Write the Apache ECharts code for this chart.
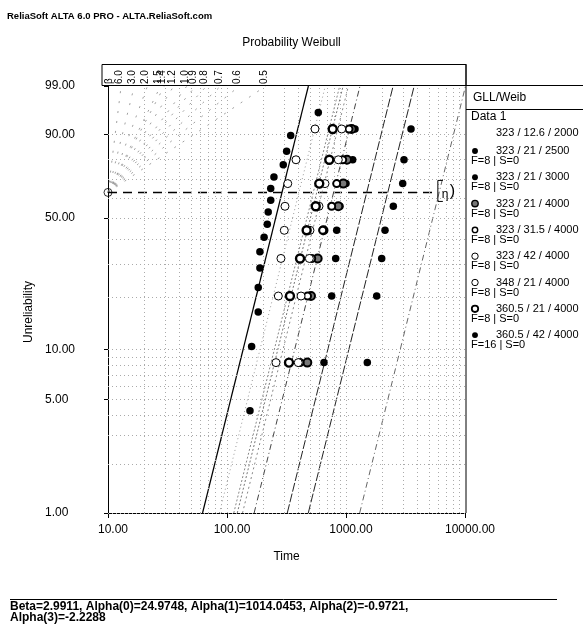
<!DOCTYPE html>
<html><head><meta charset="utf-8">
<script src="https://cdn.jsdelivr.net/npm/echarts@6/dist/echarts.min.js"></script>
<style>html,body{margin:0;padding:0;background:#fff}#c{width:583px;height:628px}</style>
</head><body><div id="c"></div>
<script>
// ---------------- DATA ----------------
const headerText = 'ReliaSoft ALTA 6.0 PRO - ALTA.ReliaSoft.com';
const chartTitle = 'Probability Weibull';
const xName = 'Time';
const yName = 'Unreliability';
const modelName = 'GLL/Weib';
const dataName = 'Data 1';
const paramText = ['Beta=2.9911, Alpha(0)=24.9748, Alpha(1)=1014.0453, Alpha(2)=-0.9721,', 'Alpha(3)=-2.2288'];

const yTickLabels = [1, 5, 10, 50, 90, 99];
const yGridValues = [1, 2, 3, 4, 5, 6, 7, 8, 9, 10, 20, 30, 40, 50, 60, 70, 80, 90, 99];
const xGridValues = [20, 30, 40, 50, 60, 70, 80, 90, 100, 200, 300, 400, 500, 600, 700, 800, 900, 1000,
  2000, 3000, 4000, 5000, 6000, 7000, 8000, 9000];
const xMin = 10, xMax = 10000;
const betaScale = [6.0, 3.0, 2.0, 1.5, 1.4, 1.2, 1.0, 0.9, 0.8, 0.7, 0.6, 0.5];
const etaOriginTime = 10;
const etaLineEnd = 5800;

const stressLevels = ['323 / 12.6 / 2000', '323 / 21 / 2500', '323 / 21 / 3000', '323 / 21 / 4000',
  '323 / 31.5 / 4000', '323 / 42 / 4000', '348 / 21 / 4000', '360.5 / 21 / 4000', '360.5 / 42 / 4000'];
const failures = [null, 8, 8, 8, 8, 8, 8, 8, 16];
const suspensions = [null, 0, 0, 0, 0, 0, 0, 0, 0];

// unreliability (%) of plotted points
const unrel8 = [8.33, 20.24, 32.14, 44.05, 55.95, 67.86, 79.76, 91.67];
const unrel16 = [4.27, 10.37, 16.46, 22.56, 28.66, 34.76, 40.85, 46.95, 53.05, 59.15, 65.24, 71.34, 77.44, 83.54, 89.63, 95.73];

// failure times per stress level
const t_323_21_2500 = [1510, 1811, 1995, 2127, 2498, 2996, 3072, 3517];
const t_323_21_3000 = [653, 758, 819, 835, 890, 1000, 1138, 1190];
const t_323_21_4000 = [473, 508, 578, 647, 862, 949, 1020, 1117];
const t_323_315_4000 = [411, 475, 515, 637, 758, 835, 938, 1060];
const t_323_42_4000 = [397, 419, 492, 498, 593, 666, 862, 920];
const t_348_21_4000 = [258, 270, 284, 303, 307, 324, 380, 549];
const t_3605_21_4000 = [332, 338, 411, 467, 557, 596, 724, 773];
const t_3605_42_4000 = [156, 161, 183, 183, 189, 189, 205, 218, 222, 233, 233, 248, 297, 317, 343, 585];

// fitted lines: time at 1% and at 99% unreliability per stress level
const lineT1 = [1303, 482, 321, 169, 114, 86.4, 135, 122, 62.3];
const lineT99 = [10106, 3741, 2489, 1311, 885, 670, 1048, 946, 483];

// ---------------- STYLES ----------------
const FONT = '"Liberation Sans", Arial, Helvetica, sans-serif';
const markerStyles = {
  filled: { size: 7.5, color: '#000', borderColor: '#000', borderWidth: 0 },
  open: { size: 8, color: '#fff', borderColor: '#000', borderWidth: 1 },
  ringThick: { size: 8, color: '#fff', borderColor: '#000', borderWidth: 2.4 },
  ringGray: { size: 8, color: '#777', borderColor: '#000', borderWidth: 2 },
  ringSmall: { size: 7, color: '#fff', borderColor: '#000', borderWidth: 2 }
};
const levelMarker = [null, 'filled', 'filled', 'ringGray', 'ringSmall', 'open', 'open', 'ringThick', 'filled'];
const levelTimes = [null, t_323_21_2500, t_323_21_3000, t_323_21_4000, t_323_315_4000, t_323_42_4000,
  t_348_21_4000, t_3605_21_4000, t_3605_42_4000];
const lineStyles = [
  { color: '#666', type: [6, 3, 1, 3], width: 1 },
  { color: '#222', type: [9, 2], width: 1 },
  { color: '#222', type: [9, 2], width: 1 },
  { color: '#444', type: [6, 3, 1, 3], width: 1 },
  { color: '#888', type: [2, 2], width: 1 },
  { color: '#999', type: [1, 3], width: 1 },
  { color: '#888', type: [2, 3], width: 1 },
  { color: '#777', type: [2, 2], width: 1 },
  { color: '#000', type: 'solid', width: 1.2 }
];

// Weibull probability scale
const uOf = p => Math.log(-Math.log(1 - p / 100));
const pOf = u => 100 * (1 - Math.exp(-Math.exp(u)));
const uMin = uOf(1), uMax = uOf(99);

const chart = echarts.init(document.getElementById('c'));

const series = [];
series.push({
  type: 'line', data: [], silent: true, z: 1,
  markLine: {
    silent: true, symbol: ['none', 'none'], label: { show: false }, animation: false,
    lineStyle: { type: [1, 3], color: '#aaa', width: 1 },
    data: xGridValues.map(v => ({ xAxis: v })).concat(yGridValues.map(v => ({ yAxis: uOf(v) })))
  }
});
betaScale.forEach(b => {
  series.push({
    type: 'line', silent: true, symbol: 'none', z: 2,
    lineStyle: { color: '#777', width: 0.7, type: [2, 8] },
    data: [[etaOriginTime, 0], [etaOriginTime * Math.exp(uMax / b), uMax]]
  });
});
series.push({
  type: 'line', silent: true, symbol: 'none', z: 3,
  lineStyle: { color: '#000', width: 1.6, type: [9, 6] },
  data: [[etaOriginTime, 0], [etaLineEnd, 0]]
});
series.push({
  type: 'scatter', silent: true, symbol: 'circle', symbolSize: 8, z: 6,
  itemStyle: { color: 'rgba(255,255,255,0)', borderColor: '#000', borderWidth: 1 },
  data: [[etaOriginTime, 0]]
});
stressLevels.forEach((name, i) => {
  series.push({
    type: 'line', silent: true, symbol: 'none', z: 4, clip: true,
    lineStyle: lineStyles[i],
    data: [[lineT1[i], uMin], [lineT99[i], uMax]]
  });
});
stressLevels.forEach((name, i) => {
  if (!levelTimes[i]) return;
  const ms = markerStyles[levelMarker[i]];
  const ranks = levelTimes[i].length === 16 ? unrel16 : unrel8;
  series.push({
    name, type: 'scatter', symbol: 'circle', symbolSize: ms.size, z: 8,
    itemStyle: { color: ms.color, borderColor: ms.borderColor, borderWidth: ms.borderWidth, opacity: 1 },
    data: levelTimes[i].map((t, k) => [t, uOf(ranks[k])])
  });
});

chart.setOption({
  animation: false,
  backgroundColor: '#fff',
  grid: { left: 108, right: 118, top: 86, bottom: 115, containLabel: false },
  xAxis: {
    type: 'log', logBase: 10, min: xMin, max: xMax,
    axisLine: { onZero: false, lineStyle: { color: '#000', width: 1 } },
    axisTick: { show: true, length: 5, lineStyle: { color: '#000' } },
    axisLabel: { formatter: v => Number(v).toFixed(2), color: '#000', fontFamily: FONT, fontSize: 12,
      margin: 11, padding: [0, 0, 0, 10] },
    splitLine: { show: false }
  },
  yAxis: {
    type: 'value', min: uMin, max: uMax,
    axisLine: { show: true, onZero: false, lineStyle: { color: '#000', width: 1 } },
    axisTick: { show: true, length: 4, customValues: yTickLabels.map(uOf), lineStyle: { color: '#000' } },
    axisLabel: { customValues: yTickLabels.map(uOf), formatter: v => pOf(v).toFixed(2), color: '#000',
      fontFamily: FONT, fontSize: 12, align: 'left', margin: 63 },
    splitLine: { show: false }
  },
  series
});

// ---------------- annotations ----------------
const g = [];
const txt = (x, y, text, o) => Object.assign({ type: 'text', x, y, z: 100, silent: true,
  style: Object.assign({ text, fill: '#000', font: '12px ' + FONT, textAlign: 'left', textVerticalAlign: 'middle' }, o || {}) });
const ln = (x1, y1, x2, y2, w) => ({ type: 'line', z: 99, silent: true, shape: { x1, y1, x2, y2 },
  style: { stroke: '#000', lineWidth: w || 1 } });

const pTopLeft = chart.convertToPixel({ gridIndex: 0 }, [xMin, uMax]);
const pBotRight = chart.convertToPixel({ gridIndex: 0 }, [xMax, uMin]);
const plotTop = pTopLeft[1], plotLeft = pTopLeft[0], plotRight = pBotRight[0], plotBottom = pBotRight[1];

g.push(txt(7, 16, headerText, { font: 'bold 9.5px ' + FONT }));
g.push(txt(291.5, 43, chartTitle, { textAlign: 'center' }));
g.push(txt((plotLeft + plotRight) / 2, 557, xName, { textAlign: 'center' }));
g.push(Object.assign(txt(29, 312, yName, { textAlign: 'center' }), { rotation: Math.PI / 2 }));

// beta box
g.push({ type: 'rect', z: 98, silent: true, shape: { x: plotLeft - 6, y: plotTop - 21.5, width: plotRight - plotLeft + 7, height: 21 },
  style: { fill: '#fff', stroke: '#000', lineWidth: 1 } });
g.push(Object.assign(txt(plotLeft + 1, plotTop - 2, 'β', { font: '10px ' + FONT }), { rotation: Math.PI / 2 }));
betaScale.forEach(b => {
  const p = chart.convertToPixel({ gridIndex: 0 }, [etaOriginTime * Math.exp(uMax / b), uMax]);
  g.push(Object.assign(txt(p[0] - 2, plotTop - 2, b.toFixed(1), { font: '10px ' + FONT }), { rotation: Math.PI / 2 }));
});

// eta marker
const pe = chart.convertToPixel({ gridIndex: 0 }, [etaLineEnd, 0]);
g.push({ type: 'polyline', z: 99, silent: true, shape: { points: [[pe[0] + 6, pe[1] - 12], [pe[0] + 1, pe[1] - 12], [pe[0] + 1, pe[1] + 9], [pe[0] + 6, pe[1] + 9]] },
  style: { stroke: '#000', lineWidth: 1, fill: null } });
g.push(txt(pe[0] + 5, pe[1] + 2, 'η', { font: '12px ' + FONT }));
g.push(txt(pe[0] + 13, pe[1] - 1, ')', { font: '16px ' + FONT }));

// legend panel
const lx = plotRight + 1;
g.push(ln(lx, plotTop - 22, lx, plotBottom));
g.push(ln(lx, plotTop - 0.5, 583, plotTop - 0.5));
g.push(ln(lx, 109.5, 583, 109.5));
g.push(txt(lx + 7, 98, modelName, { font: '12px ' + FONT }));
g.push(txt(lx + 5, 117, dataName, { font: '12px ' + FONT }));
stressLevels.forEach((name, i) => {
  const y = i === 0 ? 133 : 151 + 26.3 * (i - 1);
  g.push(txt(lx + 30, y, name, { font: '11px ' + FONT }));
  if (levelMarker[i]) {
    const ms = markerStyles[levelMarker[i]];
    g.push({ type: 'circle', z: 100, silent: true, shape: { cx: lx + 9, cy: y, r: ms.size / 2 - 0.8 },
      style: { fill: ms.color, stroke: ms.borderColor, lineWidth: ms.borderWidth ? Math.max(1, ms.borderWidth - 0.6) : 0 } });
  }
  if (failures[i] !== null) {
    g.push(txt(lx + 5, y + 10, 'F=' + failures[i] + ' | S=' + suspensions[i], { font: '11px ' + FONT }));
  }
});

// bottom parameters
g.push(ln(10, 599.5, 557, 599.5));
g.push(txt(10, 607, paramText[0], { font: 'bold 12px ' + FONT }));
g.push(txt(10, 618, paramText[1], { font: 'bold 12px ' + FONT }));

chart.setOption({ graphic: g });
</script>
</body></html>
